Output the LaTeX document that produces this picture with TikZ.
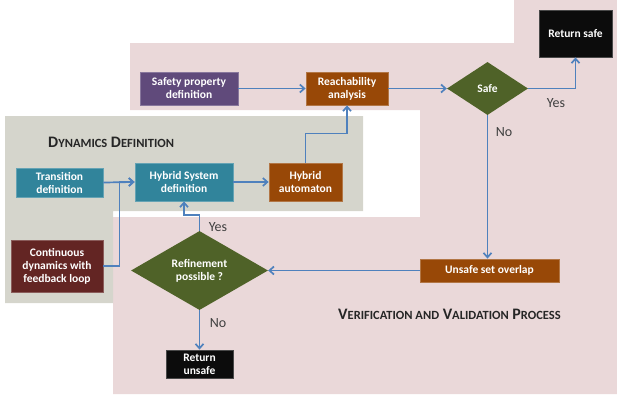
\documentclass[tikz,border=0pt]{standalone}
\usepackage{fontspec}
\setmainfont{Carlito}
\usetikzlibrary{shapes.geometric,arrows.meta}
\definecolor{pinkbg}{HTML}{EAD8D9}
\definecolor{greybg}{HTML}{D5D5CC}
\definecolor{purplebox}{HTML}{604A7B}
\definecolor{brownbox}{HTML}{984807}
\definecolor{tealbox}{HTML}{31849B}
\definecolor{redbox}{HTML}{632523}
\definecolor{olivebox}{HTML}{4F6228}
\definecolor{blackbox}{HTML}{0C0C0C}
\definecolor{flowblue}{HTML}{4F81BD}
\definecolor{labelgrey}{HTML}{3F3F3F}
\newcommand{\fsc}[2]{#1{\fontsize{12.5}{14}\selectfont #2}}

\begin{document}
\begin{tikzpicture}[x=1pt,y=-1pt,
  box/.style={rectangle, fill=#1, draw=#1!75!white, line width=0.8pt, inner sep=1pt,
    text=white, align=center, font=\fontsize{11.5}{13}\selectfont\bfseries},
  decision/.style={diamond, fill=olivebox, inner sep=0pt, text=white, align=center,
    font=\fontsize{11.5}{13}\selectfont\bfseries},
  flow/.style={draw=flowblue, line width=1.7pt, -{Straight Barb[length=4.5pt,width=8pt]}},
  answer/.style={text=labelgrey, font=\fontsize{14}{16}\selectfont}]

  \useasboundingbox (0,0) rectangle (617,394);

  % backgrounds
  \fill[pinkbg] (130,43) -- (514,43) -- (514,0) -- (617,0) -- (617,394) -- (113,394)
    -- (113,217) -- (420,217) -- (420,110) -- (130,110) -- cycle;
  \fill[greybg] (5,116) -- (363,116) -- (363,211) -- (113,211) -- (113,303) -- (5,303) -- cycle;

  \node[anchor=west, inner sep=0pt, font=\fontsize{16}{18}\selectfont\bfseries, text=black!85] (dyntitle) at (48,142)
    {\fsc{D}{YNAMICS} \fsc{D}{EFINITION}};
  \node[anchor=west, inner sep=0pt, font=\fontsize{16}{18}\selectfont\bfseries, text=black!85] (vvtitle) at (338,314)
    {\fsc{V}{ERIFICATION AND} \fsc{V}{ALIDATION} \fsc{P}{ROCESS}};

  % boxes
  \node[box=purplebox, minimum width=98pt, minimum height=33pt] (safety) at (189,88.5) {Safety property\\definition};
  \node[box=brownbox, minimum width=82pt, minimum height=33pt] (reach) at (347,88.5) {Reachability\\analysis};
  \node[decision, minimum width=81pt, minimum height=53pt] (safe) at (487.5,88.5) {Safe};
  \node[box=blackbox, minimum width=73pt, minimum height=47pt] (retsafe) at (575.5,33.5) {Return safe};
  \node[box=tealbox, minimum width=87pt, minimum height=29pt] (trans) at (59.5,182.5) {Transition\\definition};
  \node[box=tealbox, minimum width=98pt, minimum height=38pt] (hybsys) at (184,182) {Hybrid System\\definition};
  \node[box=brownbox, minimum width=73pt, minimum height=38pt] (auto) at (305.5,182) {Hybrid\\automaton};
  \node[box=redbox, minimum width=92pt, minimum height=52pt] (cont) at (57,266) {Continuous\\dynamics with\\feedback loop};
  \node[box=brownbox, minimum width=139pt, minimum height=23pt] (unsafe) at (489.5,270.5) {Unsafe set overlap};
  \node[decision, minimum width=137pt, minimum height=79pt] (refine) at (199.5,270.5) {Refinement\\possible ?};
  \node[box=blackbox, minimum width=67pt, minimum height=28pt] (retunsafe) at (199.5,364) {Return\\unsafe};

  % connectors
  \draw[flow] (safety.east) -- (reach.west); %% safety->reach
  \draw[flow] (reach.east) -- (safe.west); %% reach->safe
  \draw[flow] (safe.east) -| (retsafe.south); %% safe->return safe
  \draw[flow] (safe.south) -- (safe.south |- unsafe.north); %% safe->unsafe
  \draw[flow] (unsafe.west) -- (refine.east); %% unsafe->refine
  \draw[flow] (refine.south) -- (retunsafe.north); %% refine->return unsafe
  \draw[flow] (refine.north) -- ++(0,-16) -| (hybsys.south); %% refine->hybsys
  \draw[flow] (trans.east) -- (hybsys.west); %% trans->hybsys
  \draw[flow] (cont.east) -- ++(16,0) |- (hybsys.west); %% cont->hybsys
  \draw[flow] (hybsys.east) -- (auto.west); %% hybsys->auto
  \draw[flow] (auto.north) -- ++(0,-29) -| (reach.south); %% auto->reach

  % answers
  \node[answer] (yessafe) at (556,103) {Yes};
  \node[answer] (nosafe) at (504,132) {No};
  \node[answer] (yesref) at (218,227) {Yes};
  \node[answer] (noref) at (218,323) {No};

\end{tikzpicture}
\end{document}
